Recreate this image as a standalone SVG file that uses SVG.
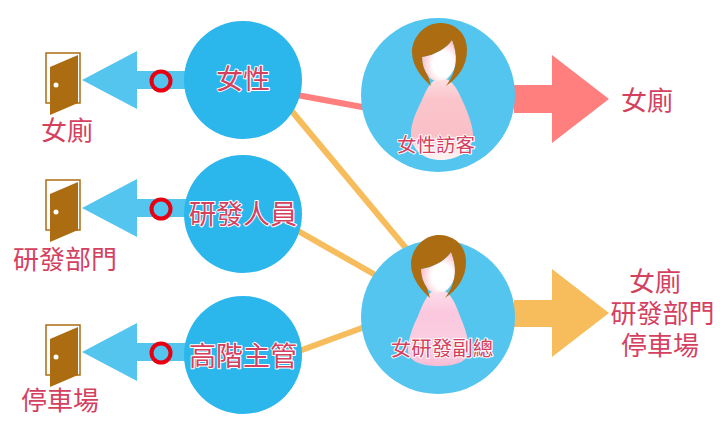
<svg xmlns="http://www.w3.org/2000/svg" width="720" height="440" viewBox="0 0 720 440">
<style>
text{font-family:"Noto Sans CJK TC","Noto Sans CJK JP",sans-serif;fill:#d4415f;text-anchor:middle}
.h{paint-order:stroke;stroke:#fff;stroke-width:2px;stroke-linejoin:round}
.big{font-size:27px}
.lab{font-size:26px}
.sm{font-size:19.500px}
.vp{font-size:20.500px}
.c1{fill:#2bb6ec}
.c2{fill:#54c5ee}
.ar{fill:#54c5ee}
.ring{fill:none;stroke:#e60012;stroke-width:4}
.fr{fill:#fff;stroke:#ac6c12;stroke-width:1.500}
.dr{fill:#ac6c12}
.hair{fill:#ac6c12}
</style>
<defs>
<linearGradient id="body1" x1="0" y1="0" x2="0" y2="1"><stop offset="0" stop-color="#fde0e2"/><stop offset=".25" stop-color="#fbc4cb"/><stop offset=".7" stop-color="#fac0c8"/><stop offset=".85" stop-color="#fde4e4"/><stop offset="1" stop-color="#fff4f2"/></linearGradient>
<linearGradient id="body2" x1="0" y1="0" x2="0" y2="1"><stop offset="0" stop-color="#fde0ea"/><stop offset=".3" stop-color="#fbc8de"/><stop offset=".8" stop-color="#fad0e2"/><stop offset="1" stop-color="#f9bcd6"/></linearGradient>
<radialGradient id="face" cx="62%" cy="60%" r="60%"><stop offset="0" stop-color="#fff"/><stop offset=".5" stop-color="#fff"/><stop offset="1" stop-color="#fbc4cc"/></radialGradient>
<g id="door">
<rect class="fr" x="-17" y="-25" width="34" height="50"/>
<path class="dr" d="M-13-11 15-23V25L-13 37Z"/>
<circle cx="-7" cy="7" r="2.500" fill="#fff"/>
</g>
<g id="larrow">
<path class="ar" d="M0 0 55-29V-9H105V9H55V29Z"/>
<circle class="ring" cx="79" cy="1" r="9.500"/>
</g>
<g id="head">
<path d="M422 57C435 55 447 48 452 40 458 55 458 68 448 78 442 82 432 82 428 76 424 70 422 64 422 57Z" fill="url(#face)"/>
<path class="hair" d="M440 23C424 23 412 38 412 52 412 66 422 78 431 86L428 76C424 70 422 64 422 57 435 55 447 48 452 40 458 55 458 70 446 86 458 78 467 66 467 50 467 33 455 23 440 23Z"/>
</g>
</defs>

<g id="connectors" fill="none" stroke-width="6">
<path d="M270 90 400 114" stroke="#ff7f7f"/>
<path d="M270 85 420 265" stroke="#f7bd5c"/>
<path d="M270 215 400 289" stroke="#f7bd5c"/>
<path d="M280 358 400 314" stroke="#f7bd5c"/>
</g>

<g id="arrow-women"><use href="#larrow" x="82" y="80"/></g>
<g id="arrow-rd"><use href="#larrow" x="82" y="208"/></g>
<g id="arrow-exec"><use href="#larrow" x="82" y="352"/></g>

<g id="door-women"><use href="#door" x="63" y="78"/><text class="lab" x="67" y="140">女廁</text></g>
<g id="door-rd"><use href="#door" x="63" y="205"/><text class="lab" x="65" y="269">研發部門</text></g>
<g id="door-parking"><use href="#door" x="63" y="350"/><text class="lab" x="60" y="410">停車場</text></g>

<g id="node-women"><circle class="c1" cx="243" cy="80" r="59"/><text class="big h" x="243" y="89">女性</text></g>
<g id="node-rd"><circle class="c1" cx="243" cy="214" r="59"/><text class="big h" x="243" y="224">研發人員</text></g>
<g id="node-exec"><circle class="c1" cx="243" cy="355" r="59"/><text class="big h" x="243" y="366">高階主管</text></g>

<g id="arrow-pink"><path d="M514 85H552V55L609 99 552 143V113H514Z" fill="#ff7f7f"/><text class="lab" x="647" y="110">女廁</text></g>
<g id="arrow-orange"><path d="M514 300H552V269L609 313 552 357V327H514Z" fill="#f7bd5c"/>
<text class="lab"><tspan x="655" y="291">女廁</tspan><tspan x="662.500" y="323">研發部門</tspan><tspan x="660" y="355">停車場</tspan></text></g>

<g id="node-visitor"><circle class="c2" cx="438" cy="95" r="77"/>
<path d="M441 78C452 78 458 90 464 104 470 118 473 128 473 136 473 150 458 160 441 160 424 160 411 150 411 134 411 124 415 114 421 102 427 88 432 78 441 78Z" fill="url(#body1)"/>
<use href="#head"/>
<text class="sm h" x="436" y="152">女性訪客</text></g>

<g id="node-vp"><circle class="c2" cx="438" cy="317" r="77"/>
<path d="M439 289C448 289 455 301 460 316 466 330 469 342 469 350 469 362 455 366 439 366 422 366 408 362 408 350 408 340 412 328 418 316 424 300 430 289 439 289Z" fill="url(#body2)"/>
<use href="#head" x="-1" y="212"/>
<text class="vp h" x="442" y="356">女研發副總</text></g>
</svg>
